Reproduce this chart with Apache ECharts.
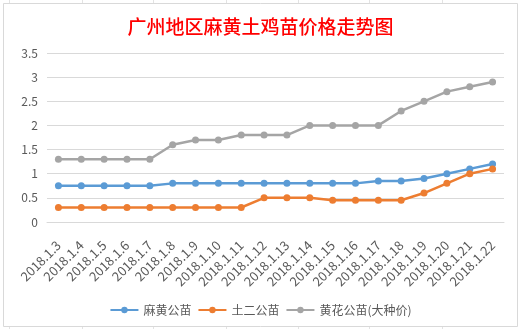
<!DOCTYPE html>
<html><head><meta charset="utf-8">
<script src="https://cdn.jsdelivr.net/npm/echarts@6/dist/echarts.min.js"></script>
<style>html,body{margin:0;padding:0;background:#fff}#c{width:521px;height:329px}</style>
</head><body><div id="c"></div>
<script>
const titleText = '广州地区麻黄土鸡苗价格走势图';
const categories = ['2018.1.3','2018.1.4','2018.1.5','2018.1.6','2018.1.7','2018.1.8','2018.1.9','2018.1.10','2018.1.11','2018.1.12','2018.1.13','2018.1.14','2018.1.15','2018.1.16','2018.1.17','2018.1.18','2018.1.19','2018.1.20','2018.1.21','2018.1.22'];
const seriesNames = ['麻黄公苗','土二公苗','黄花公苗(大种价)'];
const mahuang = [0.75,0.75,0.75,0.75,0.75,0.8,0.8,0.8,0.8,0.8,0.8,0.8,0.8,0.8,0.85,0.85,0.9,1.0,1.1,1.2];
const tuer = [0.3,0.3,0.3,0.3,0.3,0.3,0.3,0.3,0.3,0.5,0.5,0.5,0.45,0.45,0.45,0.45,0.6,0.8,1.0,1.1];
const huanghua = [1.3,1.3,1.3,1.3,1.3,1.6,1.7,1.7,1.8,1.8,1.8,2.0,2.0,2.0,2.0,2.3,2.5,2.7,2.8,2.9];
const colors = ['#5B9BD5','#ED7D31','#A5A5A5'];
const font = '"Noto Sans CJK SC","Noto Sans",sans-serif';

const chart = echarts.init(document.getElementById('c'), null, {renderer:'canvas'});
function mk(name, data, color){
  return {name, type:'line', data, symbol:'circle', symbolSize:7,
    itemStyle:{color}, lineStyle:{color, width:2.5}, animation:false};
}
const marks = [];
[9,82,153,226,298,369,442].forEach(x=>{
  marks.push({type:'line', shape:{x1:x+0.5,y1:0,x2:x+0.5,y2:3}, style:{stroke:'#E3E3E3',lineWidth:1}, silent:true});
  marks.push({type:'line', shape:{x1:x+0.5,y1:327,x2:x+0.5,y2:329}, style:{stroke:'#E3E3E3',lineWidth:1}, silent:true});
});
chart.setOption({
  backgroundColor:'#fff',
  animation:false,
  title:{text:titleText, left:'center', top:12,
    textStyle:{color:'#FF0000', fontSize:19, fontWeight:500, fontFamily:font}},
  grid:{left:47, right:17, top:53, bottom:107, containLabel:false},
  legend:{data:seriesNames, left:'center', top:299, itemWidth:28, itemHeight:8, itemGap:6,
    textStyle:{color:'#595959', fontSize:12, fontFamily:font}},
  xAxis:{type:'category', data:categories, boundaryGap:true,
    axisLine:{lineStyle:{color:'#D9D9D9'}}, axisTick:{show:false},
    axisLabel:{rotate:45, interval:0, color:'#595959', fontSize:13, margin:21, fontFamily:font}},
  yAxis:{type:'value', min:0, max:3.5, interval:0.5,
    axisLine:{show:false}, axisTick:{show:false},
    splitLine:{lineStyle:{color:'#D9D9D9'}},
    axisLabel:{color:'#595959', fontSize:12, margin:9, fontFamily:font}},
  series:[mk(seriesNames[0], mahuang, colors[0]), mk(seriesNames[1], tuer, colors[1]), mk(seriesNames[2], huanghua, colors[2])],
  graphic:[{type:'rect', shape:{x:3.5,y:3.5,width:514,height:323}, style:{fill:null, stroke:'#D9D9D9', lineWidth:1}, silent:true}].concat(marks)
});
</script></body></html>
